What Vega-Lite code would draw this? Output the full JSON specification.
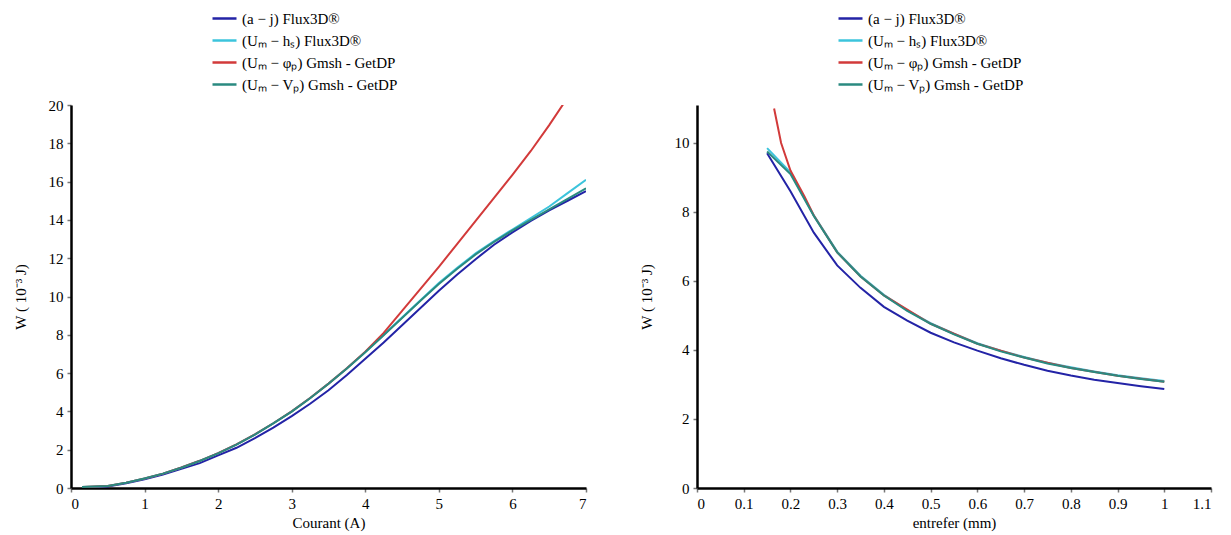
{
  "$schema": "https://vega.github.io/schema/vega-lite/v6.json",
  "background": "white",
  "padding": {"left": 13, "top": 5, "right": 10, "bottom": 5},
  "spacing": 111,
  "bounds": "flush",
  "config": {
    "view": {"stroke": null},
    "font": "'Liberation Serif', serif",
    "axis": {
      "grid": false,
      "domainColor": "black",
      "domainWidth": 2.5,
      "tickColor": "#777777",
      "tickSize": 4,
      "tickWidth": 1.5,
      "labelFont": "'Liberation Serif', serif",
      "labelFontSize": 15,
      "labelColor": "black",
      "labelPadding": 4,
      "titleFont": "'Liberation Serif', serif",
      "titleFontSize": 15,
      "titleFontWeight": "normal",
      "titleColor": "black"
    },
    "legend": {
      "orient": "none",
      "legendX": 140,
      "legendY": -100,
      "title": null,
      "symbolType": "stroke",
      "symbolStrokeWidth": 2.5,
      "labelFont": "'Liberation Serif', serif",
      "labelFontSize": 15,
      "labelColor": "black",
      "labelLimit": 400,
      "labelOffset": 4
    }
  },
  "datasets": {
    "courant": [
      {"x": 0.15, "W": 0.03, "serie": "(a − j) Flux3D®"},
      {"x": 0.5, "W": 0.08, "serie": "(a − j) Flux3D®"},
      {"x": 0.75, "W": 0.25, "serie": "(a − j) Flux3D®"},
      {"x": 1.0, "W": 0.45, "serie": "(a − j) Flux3D®"},
      {"x": 1.25, "W": 0.7, "serie": "(a − j) Flux3D®"},
      {"x": 1.5, "W": 1.0, "serie": "(a − j) Flux3D®"},
      {"x": 1.75, "W": 1.3, "serie": "(a − j) Flux3D®"},
      {"x": 2.0, "W": 1.7, "serie": "(a − j) Flux3D®"},
      {"x": 2.25, "W": 2.1, "serie": "(a − j) Flux3D®"},
      {"x": 2.5, "W": 2.6, "serie": "(a − j) Flux3D®"},
      {"x": 2.75, "W": 3.15, "serie": "(a − j) Flux3D®"},
      {"x": 3.0, "W": 3.75, "serie": "(a − j) Flux3D®"},
      {"x": 3.25, "W": 4.4, "serie": "(a − j) Flux3D®"},
      {"x": 3.5, "W": 5.1, "serie": "(a − j) Flux3D®"},
      {"x": 3.75, "W": 5.9, "serie": "(a − j) Flux3D®"},
      {"x": 4.0, "W": 6.75, "serie": "(a − j) Flux3D®"},
      {"x": 4.25, "W": 7.6, "serie": "(a − j) Flux3D®"},
      {"x": 4.5, "W": 8.5, "serie": "(a − j) Flux3D®"},
      {"x": 4.75, "W": 9.4, "serie": "(a − j) Flux3D®"},
      {"x": 5.0, "W": 10.3, "serie": "(a − j) Flux3D®"},
      {"x": 5.25, "W": 11.15, "serie": "(a − j) Flux3D®"},
      {"x": 5.5, "W": 11.95, "serie": "(a − j) Flux3D®"},
      {"x": 5.75, "W": 12.7, "serie": "(a − j) Flux3D®"},
      {"x": 6.0, "W": 13.35, "serie": "(a − j) Flux3D®"},
      {"x": 6.25, "W": 13.95, "serie": "(a − j) Flux3D®"},
      {"x": 6.5, "W": 14.5, "serie": "(a − j) Flux3D®"},
      {"x": 6.75, "W": 15.0, "serie": "(a − j) Flux3D®"},
      {"x": 7.0, "W": 15.5, "serie": "(a − j) Flux3D®"},

      {"x": 0.15, "W": 0.05, "serie": "(Uₘ − hₛ) Flux3D®"},
      {"x": 0.5, "W": 0.1, "serie": "(Uₘ − hₛ) Flux3D®"},
      {"x": 0.75, "W": 0.28, "serie": "(Uₘ − hₛ) Flux3D®"},
      {"x": 1.0, "W": 0.5, "serie": "(Uₘ − hₛ) Flux3D®"},
      {"x": 1.25, "W": 0.75, "serie": "(Uₘ − hₛ) Flux3D®"},
      {"x": 1.5, "W": 1.07, "serie": "(Uₘ − hₛ) Flux3D®"},
      {"x": 1.75, "W": 1.42, "serie": "(Uₘ − hₛ) Flux3D®"},
      {"x": 2.0, "W": 1.82, "serie": "(Uₘ − hₛ) Flux3D®"},
      {"x": 2.25, "W": 2.28, "serie": "(Uₘ − hₛ) Flux3D®"},
      {"x": 2.5, "W": 2.8, "serie": "(Uₘ − hₛ) Flux3D®"},
      {"x": 2.75, "W": 3.38, "serie": "(Uₘ − hₛ) Flux3D®"},
      {"x": 3.0, "W": 4.0, "serie": "(Uₘ − hₛ) Flux3D®"},
      {"x": 3.25, "W": 4.7, "serie": "(Uₘ − hₛ) Flux3D®"},
      {"x": 3.5, "W": 5.45, "serie": "(Uₘ − hₛ) Flux3D®"},
      {"x": 3.75, "W": 6.25, "serie": "(Uₘ − hₛ) Flux3D®"},
      {"x": 4.0, "W": 7.1, "serie": "(Uₘ − hₛ) Flux3D®"},
      {"x": 4.25, "W": 8.0, "serie": "(Uₘ − hₛ) Flux3D®"},
      {"x": 4.5, "W": 8.9, "serie": "(Uₘ − hₛ) Flux3D®"},
      {"x": 4.75, "W": 9.8, "serie": "(Uₘ − hₛ) Flux3D®"},
      {"x": 5.0, "W": 10.7, "serie": "(Uₘ − hₛ) Flux3D®"},
      {"x": 5.25, "W": 11.5, "serie": "(Uₘ − hₛ) Flux3D®"},
      {"x": 5.5, "W": 12.25, "serie": "(Uₘ − hₛ) Flux3D®"},
      {"x": 5.75, "W": 12.9, "serie": "(Uₘ − hₛ) Flux3D®"},
      {"x": 6.0, "W": 13.5, "serie": "(Uₘ − hₛ) Flux3D®"},
      {"x": 6.25, "W": 14.1, "serie": "(Uₘ − hₛ) Flux3D®"},
      {"x": 6.5, "W": 14.7, "serie": "(Uₘ − hₛ) Flux3D®"},
      {"x": 6.75, "W": 15.4, "serie": "(Uₘ − hₛ) Flux3D®"},
      {"x": 7.0, "W": 16.1, "serie": "(Uₘ − hₛ) Flux3D®"},

      {"x": 0.15, "W": 0.05, "serie": "(Uₘ − φₚ) Gmsh - GetDP"},
      {"x": 0.5, "W": 0.1, "serie": "(Uₘ − φₚ) Gmsh - GetDP"},
      {"x": 0.75, "W": 0.28, "serie": "(Uₘ − φₚ) Gmsh - GetDP"},
      {"x": 1.0, "W": 0.5, "serie": "(Uₘ − φₚ) Gmsh - GetDP"},
      {"x": 1.25, "W": 0.75, "serie": "(Uₘ − φₚ) Gmsh - GetDP"},
      {"x": 1.5, "W": 1.07, "serie": "(Uₘ − φₚ) Gmsh - GetDP"},
      {"x": 1.75, "W": 1.42, "serie": "(Uₘ − φₚ) Gmsh - GetDP"},
      {"x": 2.0, "W": 1.82, "serie": "(Uₘ − φₚ) Gmsh - GetDP"},
      {"x": 2.25, "W": 2.28, "serie": "(Uₘ − φₚ) Gmsh - GetDP"},
      {"x": 2.5, "W": 2.8, "serie": "(Uₘ − φₚ) Gmsh - GetDP"},
      {"x": 2.75, "W": 3.38, "serie": "(Uₘ − φₚ) Gmsh - GetDP"},
      {"x": 3.0, "W": 4.0, "serie": "(Uₘ − φₚ) Gmsh - GetDP"},
      {"x": 3.25, "W": 4.7, "serie": "(Uₘ − φₚ) Gmsh - GetDP"},
      {"x": 3.5, "W": 5.45, "serie": "(Uₘ − φₚ) Gmsh - GetDP"},
      {"x": 3.75, "W": 6.25, "serie": "(Uₘ − φₚ) Gmsh - GetDP"},
      {"x": 4.0, "W": 7.12, "serie": "(Uₘ − φₚ) Gmsh - GetDP"},
      {"x": 4.25, "W": 8.1, "serie": "(Uₘ − φₚ) Gmsh - GetDP"},
      {"x": 4.5, "W": 9.25, "serie": "(Uₘ − φₚ) Gmsh - GetDP"},
      {"x": 4.75, "W": 10.4, "serie": "(Uₘ − φₚ) Gmsh - GetDP"},
      {"x": 5.0, "W": 11.55, "serie": "(Uₘ − φₚ) Gmsh - GetDP"},
      {"x": 5.25, "W": 12.75, "serie": "(Uₘ − φₚ) Gmsh - GetDP"},
      {"x": 5.5, "W": 13.95, "serie": "(Uₘ − φₚ) Gmsh - GetDP"},
      {"x": 5.75, "W": 15.15, "serie": "(Uₘ − φₚ) Gmsh - GetDP"},
      {"x": 6.0, "W": 16.35, "serie": "(Uₘ − φₚ) Gmsh - GetDP"},
      {"x": 6.25, "W": 17.6, "serie": "(Uₘ − φₚ) Gmsh - GetDP"},
      {"x": 6.5, "W": 18.95, "serie": "(Uₘ − φₚ) Gmsh - GetDP"},
      {"x": 6.7, "W": 20.1, "serie": "(Uₘ − φₚ) Gmsh - GetDP"},

      {"x": 0.15, "W": 0.05, "serie": "(Uₘ − Vₚ) Gmsh - GetDP"},
      {"x": 0.5, "W": 0.1, "serie": "(Uₘ − Vₚ) Gmsh - GetDP"},
      {"x": 0.75, "W": 0.27, "serie": "(Uₘ − Vₚ) Gmsh - GetDP"},
      {"x": 1.0, "W": 0.5, "serie": "(Uₘ − Vₚ) Gmsh - GetDP"},
      {"x": 1.25, "W": 0.75, "serie": "(Uₘ − Vₚ) Gmsh - GetDP"},
      {"x": 1.5, "W": 1.06, "serie": "(Uₘ − Vₚ) Gmsh - GetDP"},
      {"x": 1.75, "W": 1.41, "serie": "(Uₘ − Vₚ) Gmsh - GetDP"},
      {"x": 2.0, "W": 1.81, "serie": "(Uₘ − Vₚ) Gmsh - GetDP"},
      {"x": 2.25, "W": 2.27, "serie": "(Uₘ − Vₚ) Gmsh - GetDP"},
      {"x": 2.5, "W": 2.79, "serie": "(Uₘ − Vₚ) Gmsh - GetDP"},
      {"x": 2.75, "W": 3.37, "serie": "(Uₘ − Vₚ) Gmsh - GetDP"},
      {"x": 3.0, "W": 3.99, "serie": "(Uₘ − Vₚ) Gmsh - GetDP"},
      {"x": 3.25, "W": 4.69, "serie": "(Uₘ − Vₚ) Gmsh - GetDP"},
      {"x": 3.5, "W": 5.44, "serie": "(Uₘ − Vₚ) Gmsh - GetDP"},
      {"x": 3.75, "W": 6.24, "serie": "(Uₘ − Vₚ) Gmsh - GetDP"},
      {"x": 4.0, "W": 7.09, "serie": "(Uₘ − Vₚ) Gmsh - GetDP"},
      {"x": 4.25, "W": 7.98, "serie": "(Uₘ − Vₚ) Gmsh - GetDP"},
      {"x": 4.5, "W": 8.88, "serie": "(Uₘ − Vₚ) Gmsh - GetDP"},
      {"x": 4.75, "W": 9.78, "serie": "(Uₘ − Vₚ) Gmsh - GetDP"},
      {"x": 5.0, "W": 10.65, "serie": "(Uₘ − Vₚ) Gmsh - GetDP"},
      {"x": 5.25, "W": 11.45, "serie": "(Uₘ − Vₚ) Gmsh - GetDP"},
      {"x": 5.5, "W": 12.2, "serie": "(Uₘ − Vₚ) Gmsh - GetDP"},
      {"x": 5.75, "W": 12.85, "serie": "(Uₘ − Vₚ) Gmsh - GetDP"},
      {"x": 6.0, "W": 13.45, "serie": "(Uₘ − Vₚ) Gmsh - GetDP"},
      {"x": 6.25, "W": 14.0, "serie": "(Uₘ − Vₚ) Gmsh - GetDP"},
      {"x": 6.5, "W": 14.55, "serie": "(Uₘ − Vₚ) Gmsh - GetDP"},
      {"x": 6.75, "W": 15.1, "serie": "(Uₘ − Vₚ) Gmsh - GetDP"},
      {"x": 7.0, "W": 15.65, "serie": "(Uₘ − Vₚ) Gmsh - GetDP"}
    ],
    "entrefer": [
      {"x": 0.15, "W": 9.7, "serie": "(a − j) Flux3D®"},
      {"x": 0.2, "W": 8.6, "serie": "(a − j) Flux3D®"},
      {"x": 0.25, "W": 7.4, "serie": "(a − j) Flux3D®"},
      {"x": 0.3, "W": 6.45, "serie": "(a − j) Flux3D®"},
      {"x": 0.35, "W": 5.8, "serie": "(a − j) Flux3D®"},
      {"x": 0.4, "W": 5.25, "serie": "(a − j) Flux3D®"},
      {"x": 0.45, "W": 4.85, "serie": "(a − j) Flux3D®"},
      {"x": 0.5, "W": 4.5, "serie": "(a − j) Flux3D®"},
      {"x": 0.55, "W": 4.22, "serie": "(a − j) Flux3D®"},
      {"x": 0.6, "W": 3.98, "serie": "(a − j) Flux3D®"},
      {"x": 0.65, "W": 3.76, "serie": "(a − j) Flux3D®"},
      {"x": 0.7, "W": 3.57, "serie": "(a − j) Flux3D®"},
      {"x": 0.75, "W": 3.4, "serie": "(a − j) Flux3D®"},
      {"x": 0.8, "W": 3.26, "serie": "(a − j) Flux3D®"},
      {"x": 0.85, "W": 3.14, "serie": "(a − j) Flux3D®"},
      {"x": 0.9, "W": 3.04, "serie": "(a − j) Flux3D®"},
      {"x": 0.95, "W": 2.95, "serie": "(a − j) Flux3D®"},
      {"x": 1.0, "W": 2.87, "serie": "(a − j) Flux3D®"},

      {"x": 0.15, "W": 9.85, "serie": "(Uₘ − hₛ) Flux3D®"},
      {"x": 0.2, "W": 9.15, "serie": "(Uₘ − hₛ) Flux3D®"},
      {"x": 0.25, "W": 7.9, "serie": "(Uₘ − hₛ) Flux3D®"},
      {"x": 0.3, "W": 6.85, "serie": "(Uₘ − hₛ) Flux3D®"},
      {"x": 0.35, "W": 6.15, "serie": "(Uₘ − hₛ) Flux3D®"},
      {"x": 0.4, "W": 5.6, "serie": "(Uₘ − hₛ) Flux3D®"},
      {"x": 0.45, "W": 5.15, "serie": "(Uₘ − hₛ) Flux3D®"},
      {"x": 0.5, "W": 4.78, "serie": "(Uₘ − hₛ) Flux3D®"},
      {"x": 0.55, "W": 4.47, "serie": "(Uₘ − hₛ) Flux3D®"},
      {"x": 0.6, "W": 4.2, "serie": "(Uₘ − hₛ) Flux3D®"},
      {"x": 0.65, "W": 3.98, "serie": "(Uₘ − hₛ) Flux3D®"},
      {"x": 0.7, "W": 3.8, "serie": "(Uₘ − hₛ) Flux3D®"},
      {"x": 0.75, "W": 3.63, "serie": "(Uₘ − hₛ) Flux3D®"},
      {"x": 0.8, "W": 3.5, "serie": "(Uₘ − hₛ) Flux3D®"},
      {"x": 0.85, "W": 3.38, "serie": "(Uₘ − hₛ) Flux3D®"},
      {"x": 0.9, "W": 3.27, "serie": "(Uₘ − hₛ) Flux3D®"},
      {"x": 0.95, "W": 3.18, "serie": "(Uₘ − hₛ) Flux3D®"},
      {"x": 1.0, "W": 3.1, "serie": "(Uₘ − hₛ) Flux3D®"},

      {"x": 0.165, "W": 11.0, "serie": "(Uₘ − φₚ) Gmsh - GetDP"},
      {"x": 0.18, "W": 10.0, "serie": "(Uₘ − φₚ) Gmsh - GetDP"},
      {"x": 0.2, "W": 9.2, "serie": "(Uₘ − φₚ) Gmsh - GetDP"},
      {"x": 0.23, "W": 8.45, "serie": "(Uₘ − φₚ) Gmsh - GetDP"},
      {"x": 0.25, "W": 7.9, "serie": "(Uₘ − φₚ) Gmsh - GetDP"},
      {"x": 0.3, "W": 6.83, "serie": "(Uₘ − φₚ) Gmsh - GetDP"},
      {"x": 0.35, "W": 6.13, "serie": "(Uₘ − φₚ) Gmsh - GetDP"},
      {"x": 0.4, "W": 5.58, "serie": "(Uₘ − φₚ) Gmsh - GetDP"},
      {"x": 0.5, "W": 4.76, "serie": "(Uₘ − φₚ) Gmsh - GetDP"},
      {"x": 0.6, "W": 4.18, "serie": "(Uₘ − φₚ) Gmsh - GetDP"},
      {"x": 0.7, "W": 3.78, "serie": "(Uₘ − φₚ) Gmsh - GetDP"},
      {"x": 0.8, "W": 3.48, "serie": "(Uₘ − φₚ) Gmsh - GetDP"},
      {"x": 0.9, "W": 3.25, "serie": "(Uₘ − φₚ) Gmsh - GetDP"},
      {"x": 1.0, "W": 3.08, "serie": "(Uₘ − φₚ) Gmsh - GetDP"},

      {"x": 0.15, "W": 9.75, "serie": "(Uₘ − Vₚ) Gmsh - GetDP"},
      {"x": 0.2, "W": 9.1, "serie": "(Uₘ − Vₚ) Gmsh - GetDP"},
      {"x": 0.25, "W": 7.88, "serie": "(Uₘ − Vₚ) Gmsh - GetDP"},
      {"x": 0.3, "W": 6.83, "serie": "(Uₘ − Vₚ) Gmsh - GetDP"},
      {"x": 0.35, "W": 6.13, "serie": "(Uₘ − Vₚ) Gmsh - GetDP"},
      {"x": 0.4, "W": 5.58, "serie": "(Uₘ − Vₚ) Gmsh - GetDP"},
      {"x": 0.45, "W": 5.13, "serie": "(Uₘ − Vₚ) Gmsh - GetDP"},
      {"x": 0.5, "W": 4.76, "serie": "(Uₘ − Vₚ) Gmsh - GetDP"},
      {"x": 0.55, "W": 4.45, "serie": "(Uₘ − Vₚ) Gmsh - GetDP"},
      {"x": 0.6, "W": 4.18, "serie": "(Uₘ − Vₚ) Gmsh - GetDP"},
      {"x": 0.65, "W": 3.96, "serie": "(Uₘ − Vₚ) Gmsh - GetDP"},
      {"x": 0.7, "W": 3.78, "serie": "(Uₘ − Vₚ) Gmsh - GetDP"},
      {"x": 0.75, "W": 3.61, "serie": "(Uₘ − Vₚ) Gmsh - GetDP"},
      {"x": 0.8, "W": 3.48, "serie": "(Uₘ − Vₚ) Gmsh - GetDP"},
      {"x": 0.85, "W": 3.36, "serie": "(Uₘ − Vₚ) Gmsh - GetDP"},
      {"x": 0.9, "W": 3.25, "serie": "(Uₘ − Vₚ) Gmsh - GetDP"},
      {"x": 0.95, "W": 3.16, "serie": "(Uₘ − Vₚ) Gmsh - GetDP"},
      {"x": 1.0, "W": 3.08, "serie": "(Uₘ − Vₚ) Gmsh - GetDP"}
    ]
  },
  "resolve": {"scale": {"color": "independent"}, "legend": {"color": "independent"}},
  "hconcat": [
    {
      "width": 515,
      "height": 383,
      "data": {"name": "courant"},
      "mark": {"type": "line", "strokeWidth": 2, "clip": true},
      "encoding": {
        "x": {"field": "x", "type": "quantitative", "title": "Courant (A)",
              "scale": {"domain": [0, 7], "nice": false},
              "axis": {"values": [0, 1, 2, 3, 4, 5, 6, 7], "format": "~g", "titlePadding": 4}},
        "y": {"field": "W", "type": "quantitative", "title": "W ( 10⁻³ J)",
              "scale": {"domain": [0, 20], "nice": false},
              "axis": {"values": [0, 2, 4, 6, 8, 10, 12, 14, 16, 18, 20], "titlePadding": 20}},
        "color": {"field": "serie", "type": "nominal",
                  "scale": {"domain": ["(a − j) Flux3D®", "(Uₘ − hₛ) Flux3D®", "(Uₘ − φₚ) Gmsh - GetDP", "(Uₘ − Vₚ) Gmsh - GetDP"],
                            "range": ["#2323a6", "#3cc4dc", "#d23a3a", "#2a8a80"]},
                  "legend": {"symbolSize": 576, "rowPadding": 0, "symbolStrokeWidth": 2.5}},
        "order": {"field": "x", "type": "quantitative"}
      }
    },
    {
      "width": 514,
      "height": 383,
      "data": {"name": "entrefer"},
      "mark": {"type": "line", "strokeWidth": 2, "clip": true},
      "encoding": {
        "x": {"field": "x", "type": "quantitative", "title": "entrefer (mm)",
              "scale": {"domain": [0, 1.1], "nice": false},
              "axis": {"values": [0, 0.1, 0.2, 0.3, 0.4, 0.5, 0.6, 0.7, 0.8, 0.9, 1, 1.1], "format": "~g", "titlePadding": 4}},
        "y": {"field": "W", "type": "quantitative", "title": "W ( 10⁻³ J)",
              "scale": {"domain": [0, 11.1], "nice": false},
              "axis": {"values": [0, 2, 4, 6, 8, 10], "titlePadding": 20}},
        "color": {"field": "serie", "type": "nominal",
                  "scale": {"domain": ["(a − j) Flux3D®", "(Uₘ − hₛ) Flux3D®", "(Uₘ − φₚ) Gmsh - GetDP", "(Uₘ − Vₚ) Gmsh - GetDP"],
                            "range": ["#2323a6", "#3cc4dc", "#d23a3a", "#2a8a80"]},
                  "legend": {"symbolSize": 576, "rowPadding": 0, "symbolStrokeWidth": 2.5}},
        "order": {"field": "x", "type": "quantitative"}
      }
    }
  ]
}
